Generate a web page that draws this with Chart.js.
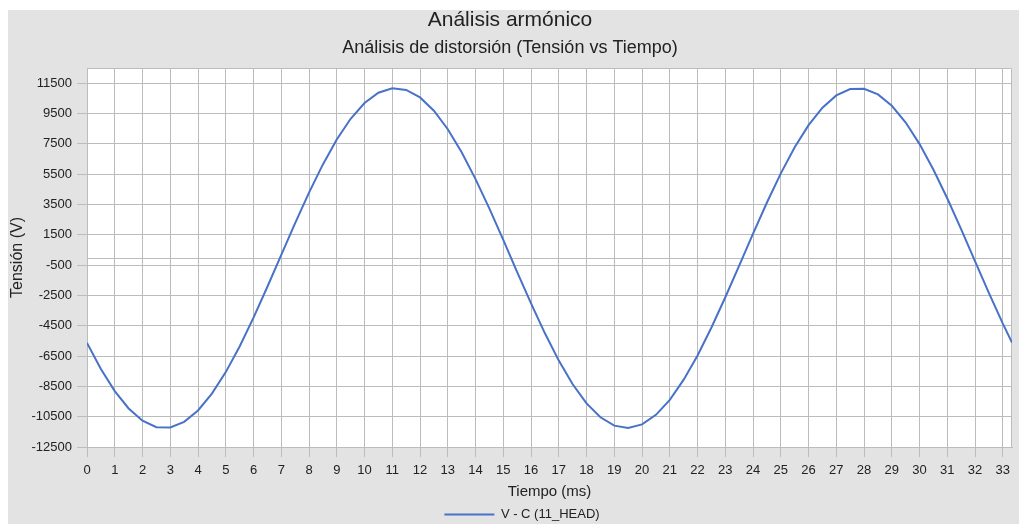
<!DOCTYPE html>
<html>
<head>
<meta charset="utf-8">
<script src="https://cdn.jsdelivr.net/npm/chart.js@4/dist/chart.umd.min.js"></script>
<style>
  body { margin: 0; background: #ffffff; }
  #panel {
    position: absolute;
    left: 8px;
    top: 10px;
    width: 1011px;
    height: 514px;
    background: #e3e3e3;
  }
</style>
</head>
<body>
<div id="panel">
  <canvas id="plot" width="1011" height="514"></canvas>
</div>
<script>
// Samples of the V - C waveform, time in ms
const timeMs = [
  0, 0.5, 1, 1.5, 2, 2.5, 3, 3.5, 4, 4.5, 5, 5.5, 6, 6.5, 7, 7.5, 8, 8.5, 9, 9.5,
  10, 10.5, 11, 11.5, 12, 12.5, 13, 13.5, 14, 14.5, 15, 15.5, 16, 16.5, 17, 17.5,
  18, 18.5, 19, 19.5, 20, 20.5, 21, 21.5, 22, 22.5, 23, 23.5, 24, 24.5, 25, 25.5,
  26, 26.5, 27, 27.5, 28, 28.5, 29, 29.5, 30, 30.5, 31, 31.5, 32, 32.5, 33, 33.33
];
const tensionV = [
  -5630, -7350, -8810, -9960, -10770, -11190, -11210, -10840, -10090, -8980,
  -7560, -5870, -3970, -1930, 170, 2270, 4280, 6140, 7790, 9150,
  10190, 10870, 11160, 11050, 10560, 9680, 8460, 6940, 5170, 3220,
  1160, -960, -3030, -5000, -6800, -8360, -9620, -10540, -11090, -11250,
  -11010, -10380, -9390, -8060, -6460, -4620, -2620, -530, 1570, 3630,
  5550, 7270, 8730, 9880, 10690, 11110, 11130, 10760, 10010, 8900,
  7480, 5790, 3890, 1850, -250, -2350, -4360, -5610
];

const xTicks = [
  0, 1, 2, 3, 4, 5, 6, 7, 8, 9, 10, 11, 12, 13, 14, 15, 16,
  17, 18, 19, 20, 21, 22, 23, 24, 25, 26, 27, 28, 29, 30, 31, 32, 33
];
const yTicks = [-12500, -10500, -8500, -6500, -4500, -2500, -500, 1500, 3500, 5500, 7500, 9500, 11500];

const seriesLabel = 'V - C (11_HEAD)';
const lineColor = '#4872c8';
const gridColor = '#bcbcbc';
const textColor = '#222222';
const fontFamily = '"Liberation Sans", Arial, sans-serif';

const points = timeMs.map(function(t, i) {
  return { x: t, y: tensionV[i] };
});

function fixedTicks(values) {
  return function(scale) {
    scale.ticks = values.map(function(v) {
      return { value: v };
    });
  };
}

// white plot area, top/right frame and zero line
const plotAreaPlugin = {
  id: 'plot_area',
  afterLayout: (chart) => {
    // legend sits a bit right of center
    chart.legend.left += 24;
  },
  beforeDraw: (chart) => {
    const ctx = chart.ctx;
    const a = chart.chartArea;
    ctx.save();
    ctx.fillStyle = '#ffffff';
    ctx.fillRect(a.left, a.top, a.right - a.left, a.bottom - a.top);
    ctx.restore();
  },
  beforeDatasetsDraw: (chart) => {
    const ctx = chart.ctx;
    const a = chart.chartArea;
    const y0 = Math.round(chart.scales.y.getPixelForValue(0)) + 0.5;
    const top = Math.round(a.top) + 0.5;
    const right = Math.round(a.right) - 0.5;
    ctx.save();
    ctx.strokeStyle = gridColor;
    ctx.lineWidth = 1;
    ctx.beginPath();
    ctx.moveTo(a.left, y0);
    ctx.lineTo(a.right, y0);
    ctx.moveTo(a.left, top);
    ctx.lineTo(right, top);
    ctx.lineTo(right, a.bottom);
    ctx.stroke();
    ctx.restore();
  }
};

const config = {
  type: 'line',
  plugins: [plotAreaPlugin],
  data: {
    datasets: [{
      label: seriesLabel,
      data: points,
      borderColor: lineColor,
      backgroundColor: lineColor,
      borderWidth: 2,
      pointRadius: 0,
      tension: 0
    }]
  },
  options: {
    responsive: false,
    devicePixelRatio: 1,
    animation: false,
    layout: {
      padding: { left: 0, right: 7, top: 0, bottom: -7 }
    },
    plugins: {
      title: {
        display: true,
        text: 'Análisis armónico',
        color: textColor,
        font: { family: fontFamily, size: 21, weight: 'normal', lineHeight: 1 },
        padding: { top: 0, bottom: 8 }
      },
      subtitle: {
        display: true,
        text: 'Análisis de distorsión (Tensión vs Tiempo)',
        color: textColor,
        font: { family: fontFamily, size: 18, weight: 'normal', lineHeight: 1 },
        padding: { top: 0, bottom: 11 }
      },
      legend: {
        position: 'bottom',
        labels: {
          color: textColor,
          font: { family: fontFamily, size: 13 },
          usePointStyle: true,
          pointStyle: 'line',
          pointStyleWidth: 50,
          padding: 3
        }
      },
      tooltip: { enabled: false }
    },
    scales: {
      x: {
        type: 'linear',
        min: 0,
        max: 33.33,
        afterBuildTicks: fixedTicks(xTicks),
        afterFit: (scale) => { scale.height = 58; },
        grid: { color: gridColor, tickLength: 10, tickColor: gridColor },
        border: { color: gridColor },
        ticks: {
          color: textColor,
          font: { family: fontFamily, size: 13 },
          padding: 6,
          maxRotation: 0,
          autoSkip: false,
          callback: (v) => String(v)
        },
        title: {
          display: true,
          text: 'Tiempo (ms)',
          color: textColor,
          font: { family: fontFamily, size: 15 },
          padding: { top: 0, bottom: 4 }
        }
      },
      y: {
        type: 'linear',
        min: -12500,
        max: 12500,
        afterBuildTicks: fixedTicks(yTicks),
        afterFit: (scale) => { scale.width = 79; },
        grid: { color: gridColor, tickLength: 10, tickColor: gridColor },
        border: { color: gridColor },
        ticks: {
          color: textColor,
          font: { family: fontFamily, size: 13 },
          padding: 5,
          autoSkip: false,
          callback: (v) => String(v)
        },
        title: {
          display: true,
          text: 'Tensión (V)',
          color: textColor,
          font: { family: fontFamily, size: 16 },
          padding: { top: 0, bottom: 0 }
        }
      }
    }
  }
};

const canvas = document.getElementById('plot');
const chart = new Chart(canvas.getContext('2d'), config);
</script>
</body>
</html>
